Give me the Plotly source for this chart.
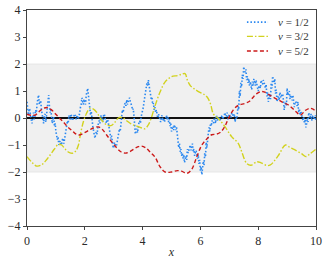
import plotly.graph_objects as go

# ---- data ----
y_half = [
    0.6, 0.25, 0.1, 0.35, 0.3, 0.05, -0.1, -0.2, 0.1, 0.2, -0.05, 0.05, 0.3, 0.2, 0.55, 0.75, 0.85, 0.5, 0.6, 0.65,
    0.3, 0.1, -0.05, -0.2, 0.1, 0.15, -0.15, 0.05, 0.4, 0.55, 0.85, 0.45, 0.2, 0.3, -0.1, -0.2, -0.05, 0.05, -0.3, -0.2,
    -0.5, -0.6, -0.8, -0.7, -1.0, -0.9, -0.85, -1.0, -0.95, -0.8, -0.75, -0.95, -0.8, -0.6, -0.55, -0.3, -0.1, -0.2, 0.1, 0.0,
    -0.05, 0.15, 0.05, -0.1, 0.0, 0.05, 0.15, 0.05, -0.05, 0.05, 0.1, -0.05, 0.05, 0.2, 0.4, 0.5, 0.75, 0.6, 0.5, 0.7,
    0.6, 0.5, 0.85, 1.0, 1.1, 0.85, 0.55, 0.4, 0.1, 0.25, -0.15, -0.3, -0.45, -0.55, -0.75, -0.6, -0.5, -0.6, -0.3, -0.15,
    -0.1, -0.2, 0.05, 0.1, -0.05, -0.15, 0.1, 0.15, 0.0, -0.1, -0.2, -0.05, -0.1, -0.25, -0.45, -0.55, -0.75, -0.65, -0.9, -1.05,
    -1.12, -0.9, -0.95, -1.05, -1.0, -0.85, -0.7, -0.6, -0.4, -0.5, -0.1, 0.05, 0.3, 0.2, 0.4, 0.5, 0.55, 0.45, 0.67, 0.5,
    0.6, 0.7, 0.75, 0.6, 0.55, 0.45, 0.3, 0.35, 0.1, -0.2, -0.6, -0.45, -0.4, -0.55, -0.3, -0.15, -0.1, -0.2, 0.05, 0.15,
    0.3, 0.4, 0.6, 0.75, 0.9, 1.1, 1.3, 1.2, 1.41, 1.2, 1.0, 0.85, 0.7, 0.75, 0.5, 0.55, 0.3, 0.4, 0.2, 0.3,
    0.05, 0.0, 0.15, 0.05, -0.05, -0.15, 0.05, 0.1, -0.1, 0.0, -0.15, -0.1, 0.0, 0.1, -0.05, 0.05, -0.15, -0.05, -0.3, -0.2,
    -0.5, -0.4, -0.3, -0.45, -0.25, -0.35, -0.45, -0.35, -0.7, -0.85, -1.1, -0.95, -1.25, -1.15, -1.4, -1.3, -1.5, -1.35, -1.65, -1.5,
    -1.4, -1.55, -1.15, -1.3, -1.2, -1.05, -1.0, -1.2, -1.1, -0.95, -1.25, -1.15, -1.4, -1.3, -1.2, -1.35, -1.5, -1.35, -1.7, -1.55,
    -1.95, -1.8, -2.1, -1.85, -1.6, -1.75, -1.3, -1.45, -0.9, -1.1, -0.7, -0.55, -0.35, -0.5, -0.2, -0.3, -0.1, -0.2, -0.2, -0.05,
    -0.05, -0.2, 0.1, 0.0, -0.1, 0.0, 0.05, -0.1, -0.05, 0.05, 0.1, -0.05, 0.0, 0.1, 0.2, 0.05, 0.1, 0.2, -0.05, 0.05,
    0.15, 0.05, 0.0, 0.15, 0.2, 0.1, 0.05, 0.15, -0.15, 0.0, -0.05, 0.1, 0.45, 0.3, 1.0, 0.8, 1.3, 1.15, 1.6, 1.45,
    1.9, 1.75, 1.7, 1.8, 1.4, 1.55, 1.3, 1.45, 1.2, 1.35, 1.15, 1.05, 1.35, 1.2, 1.45, 1.3, 1.2, 1.4, 1.3, 1.1,
    1.0, 1.15, 1.2, 1.1, 1.4, 1.3, 1.25, 1.4, 1.35, 1.2, 1.1, 1.25, 0.8, 0.95, 0.6, 0.75, 0.9, 0.7, 1.3, 1.1,
    1.55, 1.4, 1.3, 1.45, 0.9, 1.05, 0.6, 0.75, 0.8, 0.65, 0.95, 0.8, 0.75, 0.9, 0.85, 0.65, 0.3, 0.5, 0.6, 0.45,
    1.1, 0.85, 0.9, 1.0, 0.7, 0.85, 0.8, 0.65, 0.85, 0.7, 0.4, 0.6, 0.6, 0.5, 0.45, 0.6, 0.2, 0.35, 0.1, 0.25,
    0.15, 0.0, -0.1, 0.05, -0.2, -0.05, -0.35, -0.2, 0.0, -0.15, 0.2, 0.05, 0.05, 0.15, -0.1, 0.05, 0.1, -0.05, -0.05, 0.1,
    -0.1]
x_half = [i * 0.025 for i in range(len(y_half))]

x_3half = [0, 0.15, 0.33, 0.5, 0.65, 0.8, 0.95, 1.08, 1.2, 1.32, 1.45, 1.6, 1.7,
           1.78, 1.85, 1.95, 2.05, 2.18, 2.3, 2.42, 2.53, 2.65, 2.78, 2.93, 3.05,
           3.16, 3.3, 3.45, 3.6, 3.8, 3.95, 4.08, 4.2, 4.3, 4.43, 4.6, 4.78, 5.0,
           5.2, 5.35, 5.47, 5.55, 5.65, 5.76, 5.93, 6.13, 6.25, 6.35, 6.45, 6.62,
           6.85, 7.08, 7.31, 7.43, 7.6, 7.75, 7.95, 8.1, 8.3, 8.42, 8.55, 8.71,
           8.94, 9.11, 9.3, 9.5, 9.65, 9.8, 10.0]
y_3half = [-1.43, -1.62, -1.78, -1.74, -1.58, -1.37, -1.15, -0.98, -1.0, -1.15,
           -1.27, -1.3, -1.2, -1.0, -0.6, -0.14, 0.15, 0.36, 0.33, 0.2, 0.0,
           -0.16, -0.27, -0.27, -0.15, 0.0, 0.02, -0.1, -0.22, -0.3, -0.36, -0.4,
           -0.25, 0.0, 0.45, 0.95, 1.34, 1.53, 1.57, 1.62, 1.64, 1.4, 1.2, 1.1,
           0.98, 0.87, 0.75, 0.52, 0.15, -0.02, -0.32, -0.69, -0.94, -1.25, -1.68,
           -1.75, -1.62, -1.66, -1.76, -1.74, -1.6, -1.37, -1.0, -1.1, -1.2, -1.32,
           -1.43, -1.32, -1.15]

x_5half = [0, 0.15, 0.3, 0.45, 0.6, 0.7, 0.85, 0.97, 1.1, 1.26, 1.4, 1.55, 1.7,
           1.8, 1.98, 2.15, 2.3, 2.47, 2.6, 2.75, 2.93, 3.1, 3.25, 3.4, 3.55, 3.7,
           3.85, 3.97, 4.1, 4.25, 4.43, 4.6, 4.78, 5.0, 5.2, 5.35, 5.53, 5.7, 5.87,
           6.04, 6.2, 6.39, 6.55, 6.7, 6.85, 6.97, 7.14, 7.31, 7.54, 7.7, 7.85,
           7.95, 8.1, 8.2, 8.36, 8.59, 8.82, 9.05, 9.28, 9.46, 9.63, 9.8, 10.0]
y_5half = [0.14, 0.1, 0.12, 0.27, 0.37, 0.39, 0.3, 0.17, 0.02, -0.15, -0.32,
           -0.46, -0.6, -0.63, -0.55, -0.45, -0.37, -0.33, -0.42, -0.62, -0.88,
           -1.1, -1.25, -1.3, -1.25, -1.15, -1.06, -1.04, -1.1, -1.25, -1.45, -1.8,
           -2.0, -2.0, -1.95, -1.97, -2.05, -1.9, -1.45, -1.02, -0.8, -0.62, -0.6,
           -0.52, -0.3, -0.02, 0.3, 0.47, 0.54, 0.62, 0.8, 0.9, 0.98, 0.97, 0.87,
           0.73, 0.6, 0.48, 0.26, 0.11, 0.28, 0.36, 0.26]

labels = ["<i>ν</i> = 1/2", "<i>ν</i> = 3/2", "<i>ν</i> = 5/2"]
tick_vals_x = [0, 2, 4, 6, 8, 10]
tick_vals_y = [-4, -3, -2, -1, 0, 1, 2, 3, 4]
tick_text_y = ["−4", "−3", "−2", "−1", "0", "1", "2", "3", "4"]

serif = "Liberation Serif, DejaVu Serif, serif"
colors = ["#2a88f0", "#d2d21e", "#cc1a1a"]
dashes = ["1.5px,2px", "6px,2px,1.5px,2px", "4px,2.5px"]
widths = [1.6, 1.4, 1.4]

fig = go.Figure()
fig.add_trace(go.Scatter(x=x_half, y=y_half, mode="lines", name=labels[0],
                         line=dict(color=colors[0], width=widths[0], dash=dashes[0])))
fig.add_trace(go.Scatter(x=x_3half, y=y_3half, mode="lines", name=labels[1],
                         line=dict(color=colors[1], width=widths[1], dash=dashes[1]),
                         line_shape="spline"))
fig.add_trace(go.Scatter(x=x_5half, y=y_5half, mode="lines", name=labels[2],
                         line=dict(color=colors[2], width=widths[2], dash=dashes[2]),
                         line_shape="spline"))

fig.add_shape(type="rect", xref="paper", yref="y", x0=0, x1=1, y0=-2, y1=2,
              fillcolor="#f0f0f0", line=dict(color="#e2e2e2", width=0.8),
              layer="below")

# manual legend (compact row spacing like the reference)
leg_rows = [0.944, 0.878, 0.81]
for lab, col, dsh, w, yy in zip(labels, colors, dashes, widths, leg_rows):
    fig.add_shape(type="line", xref="paper", yref="paper", x0=0.761, x1=0.834,
                  y0=yy, y1=yy, line=dict(color=col, width=w, dash=dsh))
    fig.add_annotation(xref="paper", yref="paper", x=0.862, y=yy, text=lab,
                       showarrow=False, xanchor="left", yanchor="middle",
                       font=dict(family=serif, size=11, color="#333"))

fig.update_layout(
    width=328, height=262,
    margin=dict(l=27, r=12, t=10, b=36),
    paper_bgcolor="white", plot_bgcolor="white",
    font=dict(family=serif, size=12, color="#2a2a2a"),
    showlegend=False,
    xaxis=dict(range=[0, 10], tickvals=tick_vals_x, showgrid=False,
               zeroline=False, showline=True, linecolor="#444", linewidth=1.2,
               mirror=True, ticks="outside", ticklen=3, tickcolor="#444",
               automargin=False,
               title=dict(text="<i>x</i>", standoff=1,
                          font=dict(family=serif, size=12))),
    yaxis=dict(range=[-4, 4], tickvals=tick_vals_y, ticktext=tick_text_y,
               showgrid=False, zeroline=True, zerolinecolor="#111",
               zerolinewidth=1.8, showline=True, linecolor="#444",
               linewidth=1.2, mirror=True, ticks="outside", ticklen=3,
               tickcolor="#444", automargin=False),
)

fig.write_html("out.html", config={"displayModeBar": False},
               post_script="document.body.style.margin='0';document.body.style.padding='0';")
